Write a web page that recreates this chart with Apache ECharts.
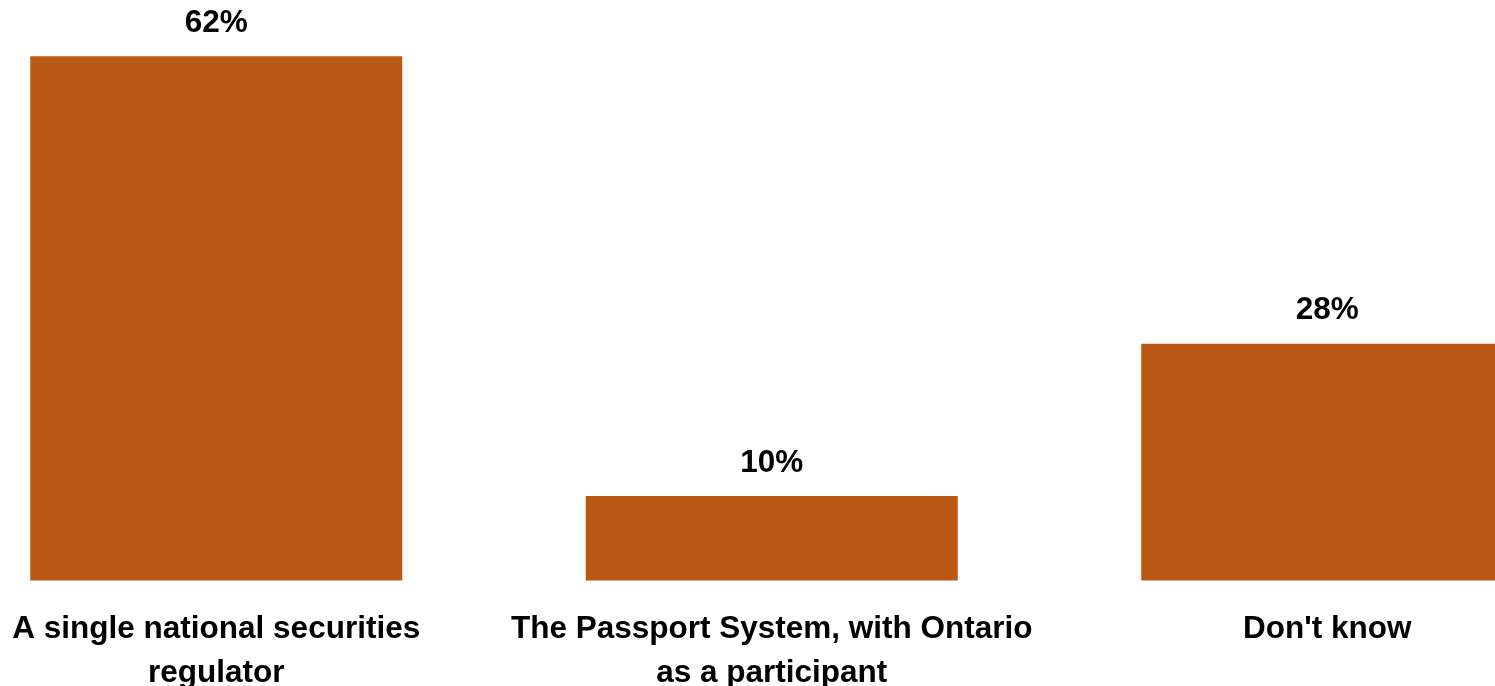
<!DOCTYPE html>
<html>
<head>
<meta charset="utf-8">
<script src="https://cdn.jsdelivr.net/npm/echarts@6/dist/echarts.min.js"></script>
<style>
html,body{margin:0;padding:0;background:#fff;}
#chart{width:1495px;height:686px;}
</style>
</head>
<body>
<div id="chart"></div>
<script>
const categories = ["A single national securities\nregulator", "The Passport System, with Ontario\nas a participant", "Don't know"];
const values = [62, 10, 28];

const FONT = "'Liberation Sans', Arial, Helvetica, sans-serif";
const chart = echarts.init(document.getElementById('chart'));
chart.setOption({
  animation: false,
  grid: { left: -61.5, width: 1666.5, top: 31, bottom: 105.5, containLabel: false, outerBoundsMode: 'none' },
  xAxis: {
    type: 'category',
    data: categories,
    axisLine: { show: false },
    axisTick: { show: false },
    axisLabel: {
      interval: 0,
      margin: 27,
      fontFamily: FONT,
      fontWeight: 'bold',
      fontSize: 31.5,
      lineHeight: 44,
      color: '#000'
    }
  },
  yAxis: {
    type: 'value',
    min: 0,
    max: 65,
    show: false,
    splitLine: { show: false }
  },
  series: [{
    type: 'bar',
    data: values,
    barWidth: 372,
    itemStyle: { color: '#B95914' },
    label: {
      show: true,
      position: 'top',
      distance: 17,
      formatter: '{c}%',
      fontFamily: FONT,
      fontWeight: 'bold',
      fontSize: 31.5,
      color: '#000'
    }
  }]
});
</script>
</body>
</html>
